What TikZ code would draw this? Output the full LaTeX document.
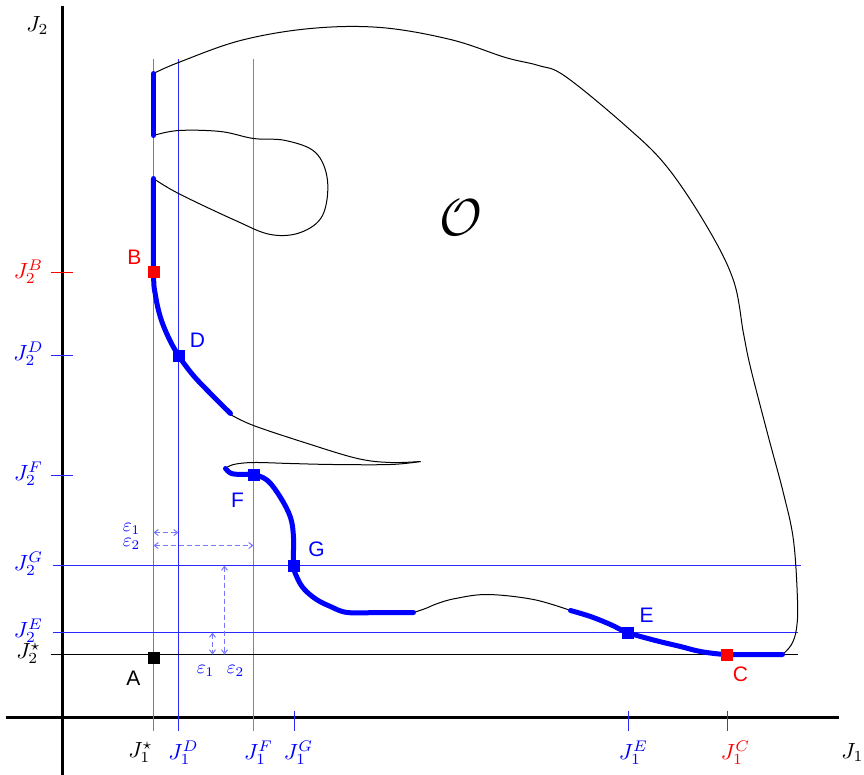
\documentclass[tikz,border=0pt]{standalone}
\usepackage{fontspec}
\usepackage{graphicx}
\newfontfamily\labfont{Liberation Sans}
\usetikzlibrary{arrows.meta}
\newcommand\mathlbl[2]{\scalebox{#1}{$#2$}}
\definecolor{guideblue}{RGB}{40,40,255}
\definecolor{lightguideblue}{RGB}{120,120,255}
\begin{document}
\begin{tikzpicture}[x=1pt,y=-1pt,
  thinc/.style={black,line width=1pt},
  thickc/.style={blue,line width=5pt,line cap=round,line join=round},
  axisline/.style={black,line width=3pt},
  guide/.style={line width=1.3pt},
  sq/.style={minimum size=12pt,inner sep=0pt,draw=none},
  ptlab/.style={font=\labfont\fontsize{21}{24}\selectfont},
  axlab/.style={inner sep=0pt},
  epslab/.style={blue,inner sep=0pt},
  epsarrow/.style={lightguideblue,dashed,dash pattern=on 5pt off 3pt,line width=1pt,{Straight Barb[length=4pt,width=6pt]}-{Straight Barb[length=4pt,width=6pt]}}
]
\useasboundingbox (0,0) rectangle (864,774);
\begin{scope}[shift={(0.5,0.5)}]
% axes
\draw[axisline] (62,5) -- (62,774);
\draw[axisline] (5,717) -- (838,717);
\node[axlab] (j2) at (37,25) {\mathlbl{2.2}{J_2}};
\node[axlab] (j1) at (852,752) {\mathlbl{2.2}{J_1}};

% vertical guide lines
\draw[guide,black!50] (153,58) -- (153,730);
\draw[guide,guideblue] (178,58) -- (178,730);
\draw[guide,lightguideblue] (253,58) -- (253,730);
\draw[guide,guideblue] (294,710) -- (294,730);
\draw[guide,guideblue] (628,710) -- (628,730);
\draw[guide,red] (727,710) -- (727,730);

% horizontal guide lines / ticks
\draw[guide,red] (50,272) -- (72,272);
\draw[guide,guideblue] (50,355) -- (72,355);
\draw[guide,guideblue] (50,475) -- (72,475);
\draw[guide,guideblue] (52,565) -- (800,565);
\draw[guide,guideblue] (52,632) -- (797,632);
\draw[guide,black] (50,654) -- (797,654);

% axis labels
\node[axlab,red]  (lb) at (28,271) {\mathlbl{2.2}{J_2^B}};
\node[axlab,blue] (ld) at (28,353) {\mathlbl{2.2}{J_2^D}};
\node[axlab,blue] (lf) at (28,473) {\mathlbl{2.2}{J_2^F}};
\node[axlab,blue] (lg) at (28,563) {\mathlbl{2.2}{J_2^G}};
\node[axlab,blue] (le) at (28,630) {\mathlbl{2.2}{J_2^E}};
\node[axlab]      (ls) at (28,653) {\mathlbl{2.2}{J_2^\star}};
\node[axlab]      (bs) at (140,752) {\mathlbl{2.2}{J_1^\star}};
\node[axlab,blue] (bd) at (183,752) {\mathlbl{2.2}{J_1^D}};
\node[axlab,blue] (bf) at (258,752) {\mathlbl{2.2}{J_1^F}};
\node[axlab,blue] (bg) at (298,752) {\mathlbl{2.2}{J_1^G}};
\node[axlab,blue] (be) at (633,752) {\mathlbl{2.2}{J_1^E}};
\node[axlab,red]  (bc) at (735,752) {\mathlbl{2.2}{J_1^C}};

% outer boundary
\draw[thinc] plot[smooth,tension=0.6] coordinates {(153,73) (178,62) (240,40) (310,28) (380,27) (450,39) (505,57) (538,65) (565,76) (627,127) (667,167) (707,227) (733,280) (743,333) (750,367) (767,433) (783,493) (793,540) (797,600) (796,628) (791,644) (782,654)};
% hole
\draw[thinc] plot[smooth,tension=0.6] coordinates {(153,135) (178,130) (220,131) (253,138) (285,140) (315,152) (327,180) (322,215) (300,232) (270,234) (235,220) (178,193) (153,178)};
% thin spike
\draw[thinc] plot[smooth,tension=0.6] coordinates {(230,414) (253,425) (307,443) (357,458) (390,462) (420,461)};
\draw[thinc] plot[smooth,tension=0.6] coordinates {(420,461) (390,464) (333,464) (290,463) (253,462) (233,464) (225,468)};
% thin bump
\draw[thinc] plot[smooth,tension=0.6] coordinates {(413,612) (425,608) (437,603) (455,598) (487,594) (533,599) (570,610)};

% thick Pareto parts
\draw[thickc] (153,73) -- (153,135);
\draw[thickc] plot[smooth,tension=0.6] coordinates {(153,178) (153,271) (155,295) (160,317) (168,337) (178,355) (192,374) (207,390) (230,413)};
\draw[thickc] plot[smooth,tension=0.6] coordinates {(225,468) (231,473) (243,474) (253,474) (267,480) (280,497) (290,517) (293,537) (293,565) (297,578) (304,589) (316,599) (330,606) (347,612) (380,612) (413,612)};
\draw[thickc] plot[smooth,tension=0.6] coordinates {(570,610) (590,616) (610,624) (627,632) (655,640) (680,646) (700,651) (725,654) (750,654) (782,654)};

% points
\node[sq,fill=black] (A) at (153,657) {};
\node[sq,fill=red]   (B) at (153,271) {};
\node[sq,fill=blue]  (D) at (178,355) {};
\node[sq,fill=blue]  (F) at (253,474) {};
\node[sq,fill=blue]  (G) at (293,565) {};
\node[sq,fill=blue]  (E) at (627,632) {};
\node[sq,fill=red]   (C) at (726,654) {};
\node[ptlab]      (tA) at (133,678) {A};
\node[ptlab,red]  (tB) at (134,257) {B};
\node[ptlab,blue] (tD) at (197,340) {D};
\node[ptlab,blue] (tF) at (237,500) {F};
\node[ptlab,blue] (tG) at (316,549) {G};
\node[ptlab,blue] (tE) at (646,615) {E};
\node[ptlab,red]  (tC) at (740,674) {C};
\node[inner sep=0pt] (O) at (460,217) {\mathlbl{5.2}{\mathcal{O}}};

% epsilon arrows
\coordinate (e1a) at (153,532); \coordinate (e1b) at (178,532);
\coordinate (e2a) at (153,545); \coordinate (e2b) at (253,545);
\coordinate (e3a) at (212,632); \coordinate (e3b) at (212,654);
\coordinate (e4a) at (224,565); \coordinate (e4b) at (224,654);
\draw[epsarrow] (e1a) -- (e1b);
\draw[epsarrow] (e2a) -- (e2b);
\draw[epsarrow] (e3a) -- (e3b);
\draw[epsarrow] (e4a) -- (e4b);
\node[epslab] (t1) at (131,528) {\mathlbl{1.9}{\varepsilon_1}};
\node[epslab] (t2) at (131,543) {\mathlbl{1.9}{\varepsilon_2}};
\node[epslab] (t3) at (205,670) {\mathlbl{1.9}{\varepsilon_1}};
\node[epslab] (t4) at (235,670) {\mathlbl{1.9}{\varepsilon_2}};
\end{scope}
\end{tikzpicture}
\end{document}
